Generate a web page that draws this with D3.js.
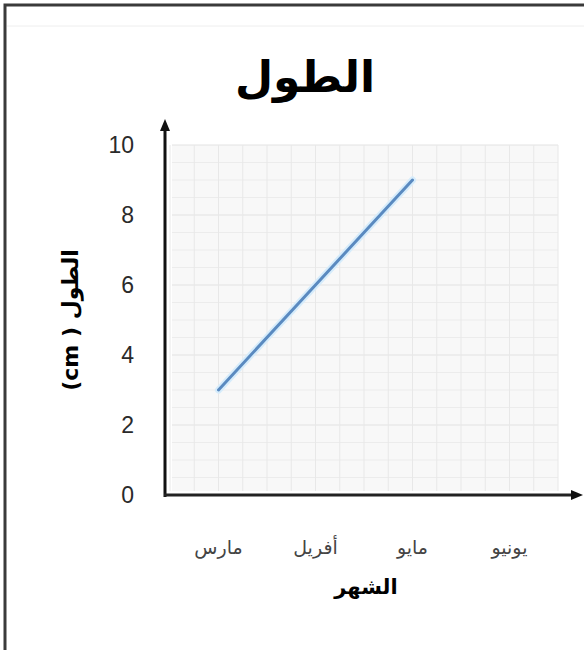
<!DOCTYPE html>
<html><head><meta charset="utf-8">
<script src="https://cdn.jsdelivr.net/npm/d3@7"></script>
<style>body{margin:0;background:#fff}svg{display:block}</style>
</head><body>
<script>
const months = ["مارس", "أفريل", "مايو", "يونيو"];
const lengths = [3, 6, 9, null];
const yTicks = [0, 2, 4, 6, 8, 10];
const title = "الطول";
const xTitle = "الشهر";
const yTitle = "(cm ) الطول";

const W = 584, H = 650;
const svg = d3.select("body").append("svg").attr("width", W).attr("height", H);

// frame
svg.append("rect").attr("x", 5).attr("y", 5).attr("width", W + 10).attr("height", H + 10)
  .attr("fill", "#fff").attr("stroke", "#3a3a3a").attr("stroke-width", 3);
svg.append("line").attr("x1", 7).attr("x2", W).attr("y1", 26).attr("y2", 26)
  .attr("stroke", "#eeeeee").attr("stroke-width", 1);

const x = d3.scaleBand().domain(months).range([170, 558]);
const y = d3.scaleLinear().domain([0, 10]).range([495, 145]);

// grid background
const gx0 = 172, gx1 = 558;
svg.append("rect").attr("x", gx0).attr("y", y(10)).attr("width", gx1 - gx0).attr("height", y(0) - y(10) - 4)
  .attr("fill", "#f8f8f8");
const minorY = d3.range(0, 10.01, 0.5);
svg.append("g").selectAll("line").data(minorY).join("line")
  .attr("x1", gx0).attr("x2", gx1).attr("y1", d => y(d)).attr("y2", d => y(d))
  .attr("stroke", d => d % 2 === 0 ? "#e2e2e2" : "#ececec").attr("stroke-width", 1);
const minorX = d3.range(0, 4.01, 0.25);
svg.append("g").selectAll("line").data(minorX).join("line")
  .attr("x1", d => 170 + d * x.bandwidth()).attr("x2", d => 170 + d * x.bandwidth())
  .attr("y1", y(10)).attr("y2", y(0) - 4)
  .attr("stroke", "#e8e8e8").attr("stroke-width", 1);

// data line
const pts = months.map((m, i) => ({m, v: lengths[i]}));
const line = d3.line().defined(d => d.v !== null)
  .x(d => x(d.m) + x.bandwidth() / 2).y(d => y(d.v));
svg.append("path").datum(pts).attr("d", line).attr("fill", "none")
  .attr("stroke", "#d6ecfb").attr("stroke-width", 7).attr("stroke-linecap", "round");
svg.append("path").datum(pts).attr("d", line).attr("fill", "none")
  .attr("stroke", "#5a8ac0").attr("stroke-width", 3).attr("stroke-linecap", "round");

// axes
const ax = 165, ay = 495;
svg.append("line").attr("x1", ax).attr("x2", ax).attr("y1", ay + 2).attr("y2", 128)
  .attr("stroke", "#111").attr("stroke-width", 3);
svg.append("path").attr("d", `M${ax},119 L${ax - 5},131 L${ax + 5},131 Z`).attr("fill", "#111");
svg.append("line").attr("x1", ax - 1).attr("x2", 574).attr("y1", ay).attr("y2", ay)
  .attr("stroke", "#222").attr("stroke-width", 3);
svg.append("path").attr("d", `M583,${ay} L571,${ay - 5} L571,${ay + 5} Z`).attr("fill", "#111");

// y tick labels
svg.append("g").selectAll("text").data(yTicks).join("text")
  .attr("x", 134).attr("y", d => y(d)).attr("dy", "0.36em").attr("text-anchor", "end")
  .attr("font-family", "Liberation Sans, DejaVu Sans, sans-serif").attr("font-size", 23)
  .attr("fill", "#2a2a2a").text(d => d);

// x category labels
svg.append("g").selectAll("text").data(months).join("text")
  .attr("x", d => x(d) + x.bandwidth() / 2).attr("y", 554).attr("text-anchor", "middle")
  .attr("font-family", "DejaVu Sans, sans-serif").attr("font-size", 19)
  .attr("fill", "#444").text(d => d);

// titles
svg.append("text").attr("x", 305).attr("y", 92).attr("text-anchor", "middle")
  .attr("font-family", "DejaVu Sans, sans-serif").attr("font-weight", "bold").attr("font-size", 44)
  .attr("fill", "#000").text(title);
svg.append("text").attr("x", 366).attr("y", 594).attr("text-anchor", "middle")
  .attr("font-family", "DejaVu Sans, sans-serif").attr("font-weight", "bold").attr("font-size", 21)
  .attr("fill", "#000").text(xTitle);
svg.append("text").attr("transform", "translate(78,320) rotate(-90)").attr("text-anchor", "middle")
  .attr("font-family", "DejaVu Sans, sans-serif").attr("font-weight", "bold").attr("font-size", 22)
  .attr("fill", "#000").attr("direction", "ltr").text(yTitle);
</script>
</body></html>
